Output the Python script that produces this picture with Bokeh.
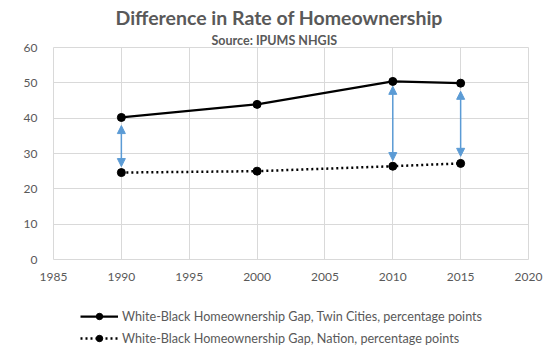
from bokeh.plotting import figure
from bokeh.layouts import column
from bokeh.models import (ColumnDataSource, Arrow, NormalHead, Legend, LegendItem,
                          Title, Range1d, FixedTicker)
from bokeh.embed import file_html
from bokeh.resources import INLINE

# ---- data ----
years = [1990, 2000, 2010, 2015]
twin_cities_gap = [40.2, 43.9, 50.4, 49.9]
nation_gap = [24.6, 25.0, 26.4, 27.2]

arrow_years = [1990, 2010, 2015]
arrow_top = [37.9, 49.0, 47.6]
arrow_bottom = [26.3, 28.0, 29.2]

x_ticks = [1985, 1990, 1995, 2000, 2005, 2010, 2015, 2020]
y_ticks = [0, 10, 20, 30, 40, 50, 60]

title_text = "Difference in Rate of Homeownership"
subtitle_text = "Source: IPUMS NHGIS"
label_tc = "White-Black Homeownership Gap, Twin Cities, percentage points"
label_nation = "White-Black Homeownership Gap, Nation, percentage points"

FONT = "Lato"
TXT = "#595959"
GRID = "#D9D9D9"
BLUE = "#5B9BD5"

W = 546
p = figure(width=W, height=290, output_backend="svg", toolbar_location=None,
           x_range=Range1d(x_ticks[0], x_ticks[-1]), y_range=Range1d(y_ticks[0], y_ticks[-1]),
           min_border_left=53, min_border_right=18, min_border_top=47, min_border_bottom=31,
           title=None)
p.background_fill_color = "white"
p.border_fill_color = "white"
p.outline_line_color = GRID

sub = Title(text=subtitle_text, align="left", offset=158, text_font=FONT, text_font_size="12.5px",
            text_font_style="bold", text_color=TXT, standoff=0)
main = Title(text=title_text, align="left", offset=62, text_font=FONT, text_font_size="19.5px",
             text_font_style="bold", text_color=TXT, standoff=3)
p.add_layout(sub, "above")
p.add_layout(main, "above")

for ax in (p.xaxis[0], p.yaxis[0]):
    ax.axis_line_color = None
    ax.major_tick_line_color = None
    ax.minor_tick_line_color = None
    ax.major_label_text_font = FONT
    ax.major_label_text_font_size = "12px"
    ax.major_label_text_color = TXT
p.xaxis.ticker = FixedTicker(ticks=x_ticks)
p.yaxis.ticker = FixedTicker(ticks=y_ticks)
p.xaxis.major_label_standoff = 7
p.yaxis.major_label_standoff = 10
p.xgrid.ticker = FixedTicker(ticks=x_ticks)
p.ygrid.ticker = FixedTicker(ticks=y_ticks)
p.xgrid.grid_line_color = GRID
p.ygrid.grid_line_color = GRID

src = ColumnDataSource(dict(x=years, tc=twin_cities_gap, nat=nation_gap))
l1 = p.line("x", "tc", source=src, line_color="black", line_width=2.25)
c1 = p.scatter("x", "tc", source=src, size=8, color="black")
l2 = p.line("x", "nat", source=src, line_color="black", line_width=2.5, line_dash="2 3")
c2 = p.scatter("x", "nat", source=src, size=8, color="black")

asrc = ColumnDataSource(dict(x=arrow_years, y0=arrow_bottom, y1=arrow_top))
p.add_layout(Arrow(x_start="x", y_start="y0", x_end="x", y_end="y1", source=asrc,
                   line_color=BLUE, line_width=1.5,
                   start=NormalHead(size=8, fill_color=BLUE, line_color=BLUE),
                   end=NormalHead(size=8, fill_color=BLUE, line_color=BLUE)))

# ---- legend strip below the chart (same series, drawn off-range so only the legend shows) ----
q = figure(width=W, height=66, output_backend="svg", toolbar_location=None,
           x_axis_type=None, y_axis_type=None, min_border=0,
           x_range=Range1d(0, 1), y_range=Range1d(0, 1))
q.outline_line_color = None
q.xgrid.visible = False
q.ygrid.visible = False
ql1 = q.line("x", "tc", source=src, line_color="black", line_width=2.25)
qc1 = q.scatter("x", "tc", source=src, size=8, color="black")
ql2 = q.line("x", "nat", source=src, line_color="black", line_width=2.5, line_dash="2 3")
qc2 = q.scatter("x", "nat", source=src, size=8, color="black")

legend = Legend(items=[LegendItem(label=label_tc, renderers=[ql1, qc1]),
                       LegendItem(label=label_nation, renderers=[ql2, qc2])],
                location=(27, 10), orientation="vertical",
                label_text_font=FONT, label_text_font_size="12.6px", label_text_color=TXT,
                glyph_width=38, glyph_height=16, label_height=16, label_standoff=4,
                spacing=6, padding=0, margin=0, border_line_color=None,
                background_fill_alpha=0)
q.add_layout(legend, "center")

open("out.html", "w").write(file_html(column(p, q, spacing=0), INLINE))
